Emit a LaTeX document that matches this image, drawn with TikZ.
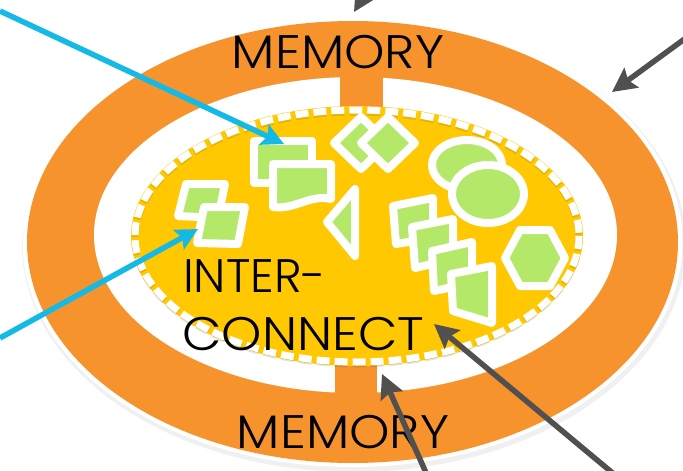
\documentclass[tikz,border=0pt]{standalone}
\usepackage{fontspec}
\setmainfont{Poppins}[UprightFont={* Light}]
\usetikzlibrary{arrows.meta,shadows}
\definecolor{memorange}{RGB}{247,147,45}
\definecolor{icyellow}{RGB}{255,200,0}
\definecolor{shpgreen}{RGB}{180,232,104}
\definecolor{arrowblue}{RGB}{20,185,230}
\definecolor{arrowgray}{RGB}{80,80,80}
\begin{document}
\begin{tikzpicture}[x=1pt,y=-1pt,
  shp/.style={draw=white, line width=8pt, fill=shpgreen, line join=round,
    drop shadow={opacity=0.18, shadow xshift=1pt, shadow yshift=-1.5pt}},
  lbl/.style={font=\fontsize{47}{50}\selectfont, inner sep=0pt, text=black},
  bluearrow/.style={draw=arrowblue, line width=5.5pt, -{Stealth[length=22pt,width=22pt,inset=4pt]}},
  grayarrow/.style={draw=arrowgray, line width=5.5pt, -{Stealth[length=24pt,width=24pt,inset=4pt]}}]
\useasboundingbox (0,0) rectangle (683,471);
\fill[white] (0,0) rectangle (683,471);
% memory ring
\fill[black, opacity=0.06] (354,245) ellipse [x radius=332, y radius=227];
\fill[white] (352.5,242) ellipse [x radius=330, y radius=225];
\fill[memorange] (352.5,242) ellipse [x radius=325.5, y radius=221];
\fill[white] (355.5,235) ellipse [x radius=261.5, y radius=158];
\fill[memorange] (340,70) rectangle (383,115);
\fill[memorange] (335,350) rectangle (377,398);
% interconnect
\fill[icyellow] (357,236) ellipse [x radius=226, y radius=130];
\draw[black, opacity=0.10, line width=7pt, dash pattern=on 13pt off 5pt] (357,238) ellipse [x radius=222, y radius=126];
\draw[white, line width=7pt, dash pattern=on 13pt off 5pt] (357,236) ellipse [x radius=222, y radius=126];
% labels
\node[lbl, anchor=base, xscale=1.095] (memtop) at (338,68) {MEMORY};
\node[lbl, anchor=base, xscale=1.095] (membot) at (343,448) {MEMORY};
\node[lbl, anchor=base west] (inter) at (183,292) {INTER-};
\node[lbl, anchor=base west, xscale=1.09] (connect) at (182,350) {CONNECT};
% shapes
\path[shp] (186,184) -- (225,184) -- (218,218) -- (178,216) -- cycle;
\path[shp] (204,207) -- (245,207) -- (238,244) -- (197,243) -- cycle;
\path[shp] (254,141) rectangle (312,183);
\path[shp] (273,164) -- (331,164) -- (331,199) .. controls (310,194) and (295,210) .. (273,207) -- cycle;
\path[shp] (334,143) -- (361,117) -- (388,143) -- (361,169) -- cycle;
\path[shp] (361,143) -- (388,117) -- (415,143) -- (388,169) -- cycle;
\path[shp] (327,222) -- (355,189) -- (355,256) -- cycle;
\path[shp] (467,165) ellipse [x radius=35, y radius=25];
\path[shp] (488,194) ellipse [x radius=36, y radius=29];
\path[shp] (393,206) -- (433,198) -- (433,238) -- (396,244) -- cycle;
\path[shp] (412,227) -- (453,219) -- (453,259) -- (415,268) -- cycle;
\path[shp] (432,251) -- (472,242) -- (472,283) -- (434,291) -- cycle;
\path[shp] (451,274) -- (492,266) -- (492,323) -- (453,311) -- cycle;
\path[shp] (565,258) -- (550,230) -- (520,230) -- (505,258) -- (520,286) -- (550,286) -- cycle;
% arrows
\coordinate (b1s) at (0,11); \coordinate (b1e) at (284,144);
\coordinate (b2s) at (0,338); \coordinate (b2e) at (198,229);
\coordinate (g1s) at (390,-48); \coordinate (g1e) at (354,12);
\coordinate (g2s) at (690,35); \coordinate (g2e) at (612,92);
\coordinate (g3s) at (615,475); \coordinate (g3e) at (434,324);
\coordinate (g4s) at (427,475); \coordinate (g4e) at (382,374);
\draw[bluearrow] (b1s) -- (b1e);
\draw[bluearrow] (b2s) -- (b2e);
\draw[grayarrow] (g1s) -- (g1e);
\draw[grayarrow] (g2s) -- (g2e);
\draw[grayarrow] (g3s) -- (g3e);
\draw[grayarrow] (g4s) -- (g4e);
\end{tikzpicture}
\end{document}
